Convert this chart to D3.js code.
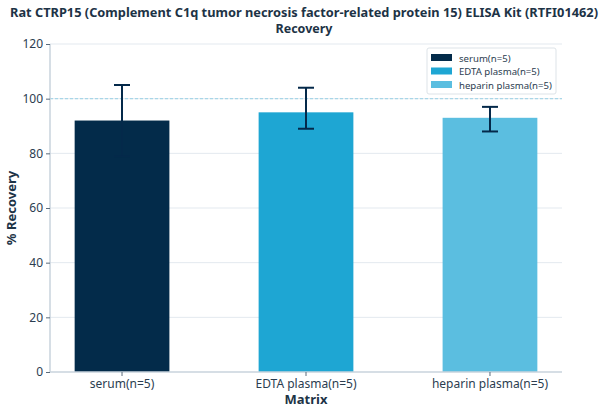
<!DOCTYPE html>
<html><head><meta charset="utf-8">
<script src="https://cdn.jsdelivr.net/npm/d3@7"></script>
<style>body{margin:0;background:#fff}svg{display:block;font-family:"Noto Sans",sans-serif}</style>
</head><body><svg id="c" width="608" height="414"></svg>
<script>
const categories = ["serum(n=5)", "EDTA plasma(n=5)", "heparin plasma(n=5)"];
const values = [92, 95, 93];
const errLow = [79, 89, 88];
const errHigh = [105, 104, 97];
const colors = ["#032b4a", "#1ea6d3", "#5bbee0"];
const yTicks = [0, 20, 40, 60, 80, 100, 120];

const svg = d3.select("#c");
const m = {l:50, r:46, t:44, b:42};
const W = 608, H = 414;
const x = d3.scaleBand().domain(categories).range([m.l, W - m.r]).paddingInner(0.485).paddingOuter(0.134);
const y = d3.scaleLinear().domain([0, 120]).range([H - m.b, m.t]);

// grid
svg.append("g").selectAll("line").data(yTicks.filter(d => d > 0)).join("line")
  .attr("x1", m.l).attr("x2", W - m.r).attr("y1", d => y(d)).attr("y2", d => y(d))
  .attr("stroke", "#e3e9ef").attr("stroke-width", 1);

// bars
svg.append("g").selectAll("rect").data(categories).join("rect")
  .attr("x", d => x(d)).attr("width", x.bandwidth())
  .attr("y", (d, i) => y(values[i])).attr("height", (d, i) => y(0) - y(values[i]))
  .attr("fill", (d, i) => colors[i]);

// reference line 100
svg.append("line").attr("x1", m.l).attr("x2", W - m.r).attr("y1", y(100)).attr("y2", y(100))
  .attr("stroke", "#a8d6e8").attr("stroke-width", 1.2).attr("stroke-dasharray", "3,2");

// error bars
const eg = svg.append("g").attr("stroke", "#04294a").attr("stroke-width", 2);
categories.forEach((c, i) => {
  const cx = x(c) + x.bandwidth() / 2;
  eg.append("line").attr("x1", cx).attr("x2", cx).attr("y1", y(errLow[i])).attr("y2", y(errHigh[i]));
  [errLow[i], errHigh[i]].forEach(v => eg.append("line").attr("x1", cx - 8).attr("x2", cx + 8).attr("y1", y(v)).attr("y2", y(v)));
});

// axes
const ya = svg.append("g").attr("transform", `translate(${m.l},0)`).call(d3.axisLeft(y).tickValues(yTicks).tickSize(4).tickPadding(3));
const xa = svg.append("g").attr("transform", `translate(0,${H - m.b})`).call(d3.axisBottom(x).tickSize(4).tickPadding(3));
[ya, xa].forEach(a => {
  a.select(".domain").attr("stroke", "#c9d3dd").attr("stroke-width", 1.5);
  a.selectAll(".tick line").attr("stroke", "#5a6b7b");
  a.selectAll("text").attr("fill", "#2b3d50").attr("font-size", 12).attr("font-family", "Noto Sans");
});
xa.select(".domain").attr("d", `M${m.l},0H${W - m.r}`);
ya.select(".domain").attr("d", `M0,${m.t}V${H - m.b}`);

// titles
svg.append("text").attr("x", 304).attr("y", 17).attr("text-anchor", "middle").attr("font-weight", "bold").attr("font-size", 12.5).attr("fill", "#1d3346")
  .attr("textLength", 588).attr("lengthAdjust", "spacingAndGlyphs")
  .text("Rat CTRP15 (Complement C1q tumor necrosis factor-related protein 15) ELISA Kit (RTFI01462)");
svg.append("text").attr("x", 304).attr("y", 33).attr("text-anchor", "middle").attr("font-weight", "bold").attr("font-size", 12.5).attr("fill", "#1d3346")
  .text("Recovery");
svg.append("text").attr("x", (m.l + W - m.r) / 2).attr("y", 404).attr("text-anchor", "middle").attr("font-weight", "bold").attr("font-size", 13).attr("fill", "#1d3346").text("Matrix");
svg.append("text").attr("transform", `translate(16,${(m.t + H - m.b) / 2}) rotate(-90)`).attr("text-anchor", "middle").attr("font-weight", "bold").attr("font-size", 13).attr("fill", "#1d3346").text("% Recovery");

// legend
const lg = svg.append("g").attr("transform", "translate(427,48)");
lg.append("rect").attr("width", 129).attr("height", 46).attr("fill", "#fff").attr("stroke", "#dde3e8").attr("rx", 2);
categories.forEach((c, i) => {
  lg.append("rect").attr("x", 4).attr("y", 6 + i * 13.5).attr("width", 21).attr("height", 7).attr("fill", colors[i]);
  lg.append("text").attr("x", 32).attr("y", 13.5 + i * 13.5).attr("font-size", 9.6).attr("fill", "#2b3d50").text(c);
});
</script></body></html>
